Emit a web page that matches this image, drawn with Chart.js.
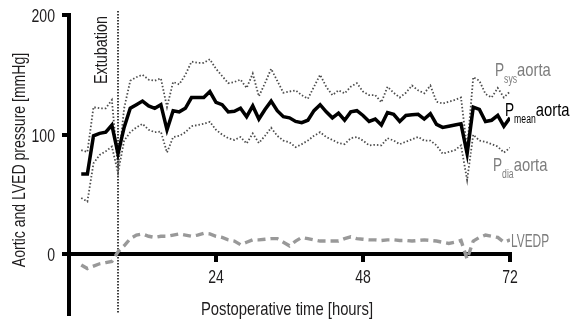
<!DOCTYPE html>
<html>
<head>
<meta charset="utf-8">
<script src="https://cdn.jsdelivr.net/npm/chart.js@4.4.0/dist/chart.umd.min.js"></script>
<style>
  html, body { margin: 0; padding: 0; background: #fff; }
</style>
</head>
<body>
<canvas id="chart" width="570" height="323"></canvas>
<script>
// Postoperative aortic / LV pressures
const FONT = '"Liberation Sans Narrow", "Liberation Sans", Arial, sans-serif';
const TEXT = '#1e1c1d';
const GREY = '#7d7d7d';

const hours = [2, 3, 4, 5, 6, 7, 8, 9, 10, 11, 12, 13, 14, 15, 16, 17, 18, 19, 20, 21, 22, 23, 24,
  25, 26, 27, 28, 29, 30, 31, 32, 33, 34, 35, 36, 37, 38, 39, 40, 41, 42, 43, 44, 45, 46, 47, 48,
  49, 50, 51, 52, 53, 54, 55, 56, 57, 58, 59, 60, 61, 62, 63, 64, 65, 66, 67, 68, 69, 70, 71, 72];

const pMean = [67, 67, 99, 101, 102, 108, 84, 106, 122, 125, 128, 124, 122, 125, 104, 120, 119, 122, 131, 131, 131, 136, 127,
  125, 119, 119.5, 122, 115, 124, 113, 121, 128, 120, 115, 114, 111, 110, 112, 120, 125, 119, 114, 118, 112, 119, 120, 116,
  111, 113, 108, 118.5, 117, 111, 116, 116.5, 117, 113, 117.5, 108.5, 106, 107, 108, 109, 84, 123, 121, 111, 112, 116, 107, 114];

const pSys = [87, 85.5, 123, 122, 122, 129, 72, 122, 145, 148, 150, 146, 145, 147, 123, 144, 142, 150, 161, 160, 160, 163, 155,
  149, 143, 144, 146, 139, 151, 132, 143, 155, 145, 135, 136, 137, 133, 130, 140, 150, 140, 133, 137, 134.5, 140, 143, 136,
  133, 133, 127, 140, 135, 131, 135, 141, 137, 134.5, 141, 127.5, 126, 127.5, 129, 131, 88, 148, 145, 134, 131, 139, 131, 136];

const pDia = [47, 44, 76, 83, 86, 90, 68, 95, 102, 106, 109, 104, 102, 102.5, 85, 98, 99, 102, 107, 108, 109, 110.7, 104,
  100, 97, 95.5, 98, 92.6, 101, 93, 99, 105.7, 99, 95, 93.5, 89.5, 92, 95, 99, 102, 98, 95.5, 93, 92, 97, 98, 95,
  91, 91.5, 91, 97, 95, 92, 94, 96, 98, 95, 95, 91, 84, 85.5, 87, 91, 62, 100, 95, 94, 92, 90, 85, 89];

const lvedp = [-9, -12, -10, -8, -7, -6, 2, 7, 13, 16, 17, 15, 14, 15, 15, 16, 17, 16, 15, 16, 17.5, 17, 15,
  14, 12, 11, 8, 10, 12, 12, 12.5, 13, 13, 10, 7, 11, 14, 13, 12, 11, 11, 11, 11, 13, 14.5, 13, 12.5,
  12, 12, 11.5, 12, 12, 11.5, 11.5, 11, 11.5, 12, 11.5, 11, 10, 9, 10, 11.5, -4, 11, 14, 16, 15, 14, 10, 12];

const xTicks = [24, 48, 72];
const yTicks = [0, 100, 200];
const extubationHour = 8;

const pts = arr => hours.map((h, i) => ({ x: h, y: arr[i] }));

// condensed text (no narrow font installed, so squeeze horizontally)
function txt(ctx, s, x, y, o = {}) {
  const sx = o.sx || 0.78;
  ctx.save();
  ctx.translate(x, y);
  if (o.rot) ctx.rotate(-Math.PI / 2);
  ctx.scale(sx, 1);
  ctx.font = (o.size || 19) + 'px ' + FONT;
  ctx.fillStyle = o.color || TEXT;
  ctx.textAlign = o.align || 'left';
  ctx.textBaseline = o.base || 'alphabetic';
  ctx.fillText(s, 0, 0);
  const w = ctx.measureText(s).width * sx;
  ctx.restore();
  return w;
}

const overlay = {
  id: 'overlay',
  beforeDatasetsDraw(chart) {
    const { ctx, chartArea, scales: { x } } = chart;
    const ex = x.getPixelForValue(extubationHour);
    ctx.save();
    ctx.strokeStyle = '#000';
    ctx.lineWidth = 1.5;
    ctx.setLineDash([1.5, 1.5]);
    ctx.beginPath();
    ctx.moveTo(ex, chartArea.top - 4);
    ctx.lineTo(ex, chartArea.bottom);
    ctx.stroke();
    ctx.restore();
    txt(ctx, 'Extubation', ex - 11, 50, { rot: true, align: 'center', size: 19, sx: 0.76 });
  },
  afterDraw(chart) {
    const { ctx, chartArea, scales: { x, y } } = chart;
    // tick labels and axis titles
    y.ticks.forEach(t => txt(ctx, String(t.value), 55, y.getPixelForValue(t.value) + 7, { align: 'right', sx: 0.74 }));
    x.ticks.forEach(t => txt(ctx, String(t.value), x.getPixelForValue(t.value), 283, { align: 'center', size: 18.5, sx: 0.76 }));
    txt(ctx, 'Postoperative time [hours]', 287, 314.5, { align: 'center' });
    txt(ctx, 'Aortic and LVED pressure [mmHg]', 24.5, 160, { rot: true, align: 'center', size: 18 });

    // series labels
    const r = chartArea.right;
    const label = (lx, ly, sub, color) => {
      lx += txt(ctx, 'P', lx, ly, { color, sx: 0.72 });
      lx += txt(ctx, sub, lx, ly + 7, { color, size: 12, sx: 0.72 });
      txt(ctx, 'aorta', lx, ly, { color, sx: 0.78 });
    };
    label(r - 15, 75.5, 'sys', GREY);
    label(r - 5, 115.5, 'mean', '#000');
    label(r - 17, 170.5, 'dia', GREY);
    txt(ctx, 'LVEDP', r + 1, 246.5, { color: GREY, size: 18, sx: 0.66 });
  }
};

new Chart(document.getElementById('chart'), {
  type: 'line',
  data: {
    datasets: [
      { label: 'Pmean aorta', data: pts(pMean), borderColor: '#000', borderWidth: 3.5 },
      { label: 'Psys aorta', data: pts(pSys), borderColor: '#4d4d4d', borderWidth: 1.8, borderDash: [1.5, 2] },
      { label: 'Pdia aorta', data: pts(pDia), borderColor: '#4d4d4d', borderWidth: 1.8, borderDash: [1.5, 2] },
      { label: 'LVEDP', data: pts(lvedp), borderColor: '#999', borderWidth: 3.4, borderDash: [8, 5] }
    ]
  },
  options: {
    responsive: false,
    animation: false,
    devicePixelRatio: 1,
    layout: { padding: { top: 15, right: 60, bottom: 9, left: 0 } },
    elements: { point: { radius: 0 }, line: { tension: 0, borderJoinStyle: 'miter', fill: false } },
    plugins: { legend: { display: false }, tooltip: { enabled: false } },
    scales: {
      x: {
        type: 'linear',
        min: 0,
        max: 72,
        position: { y: 0 },
        afterBuildTicks: s => { s.ticks = xTicks.map(v => ({ value: v })); },
        afterFit: s => { s.height = 0; },
        grid: { drawOnChartArea: false, drawTicks: true, tickLength: 6, lineWidth: 4, color: '#000' },
        border: { display: true, width: 4, color: '#000' },
        ticks: { display: false }
      },
      y: {
        type: 'linear',
        min: -50,
        max: 200,
        afterBuildTicks: s => { s.ticks = yTicks.map(v => ({ value: v })); },
        afterFit: s => { s.width = 69; },
        grid: { drawOnChartArea: false, drawTicks: true, tickLength: 7, lineWidth: 4, color: '#000' },
        border: { display: true, width: 4, color: '#000' },
        ticks: { display: false }
      }
    }
  },
  plugins: [overlay]
});
</script>
</body>
</html>
